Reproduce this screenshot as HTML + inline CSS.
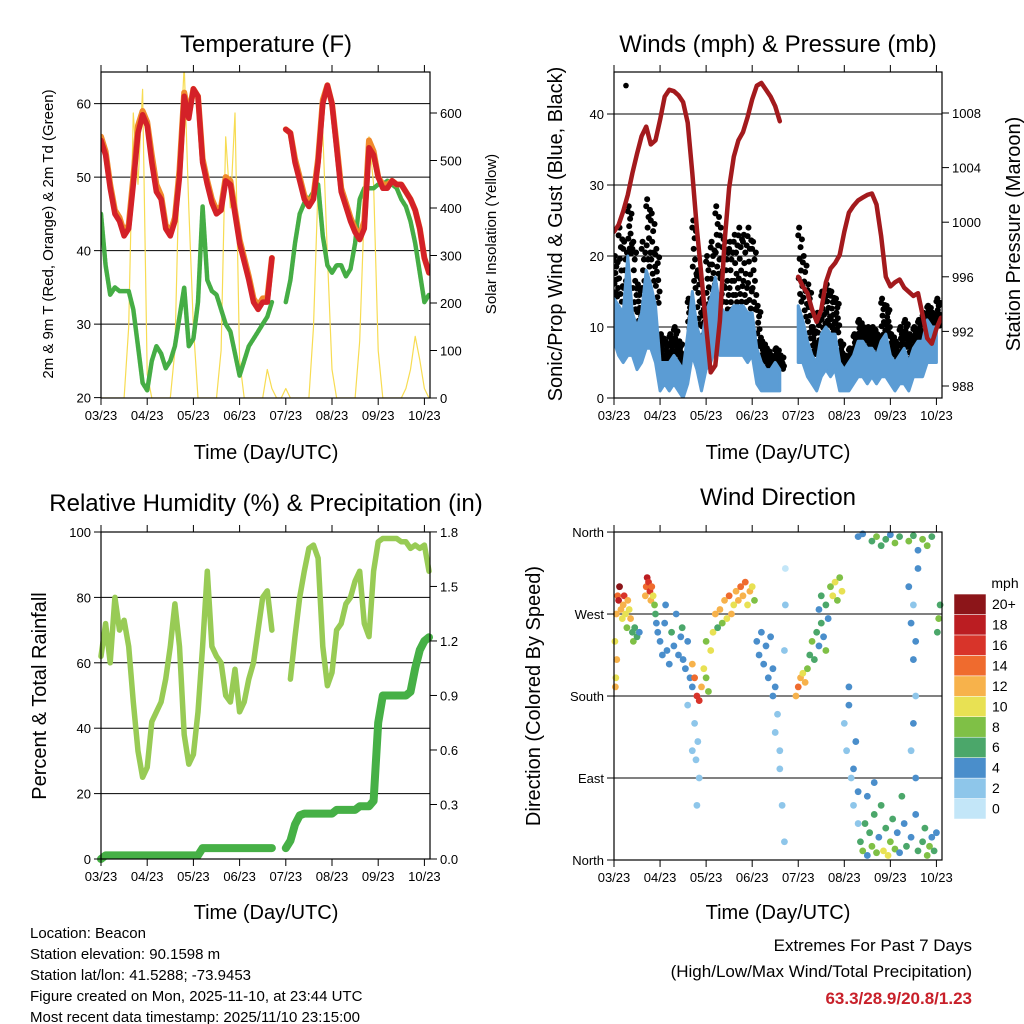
<!DOCTYPE html>
<html><head><meta charset="utf-8"><style>
html,body{margin:0;padding:0;background:#fff;}
svg{display:block;font-family:"Liberation Sans",sans-serif;}
</style></head><body>
<svg id="c" width="1024" height="1024" viewBox="0 0 1024 1024" xmlns="http://www.w3.org/2000/svg">
<g id="texts">
<text x="266" y="52" font-size="24" text-anchor="middle">Temperature (F)</text>
<text x="778" y="52" font-size="24" text-anchor="middle">Winds (mph) &amp; Pressure (mb)</text>
<text x="266" y="511" font-size="24" text-anchor="middle">Relative Humidity (%) &amp; Precipitation (in)</text>
<text x="778" y="505" font-size="24" text-anchor="middle">Wind Direction</text>
<text x="266" y="459" font-size="20" text-anchor="middle">Time (Day/UTC)</text>
<text x="778" y="459" font-size="20" text-anchor="middle">Time (Day/UTC)</text>
<text x="266" y="919" font-size="20" text-anchor="middle">Time (Day/UTC)</text>
<text x="778" y="919" font-size="20" text-anchor="middle">Time (Day/UTC)</text>
<text transform="translate(53,234) rotate(-90)" font-size="15" text-anchor="middle">2m &amp; 9m T (Red, Orange) &amp; 2m Td (Green)</text>
<text transform="translate(496,234) rotate(-90)" font-size="15" text-anchor="middle">Solar Insolation (Yellow)</text>
<text transform="translate(562,234) rotate(-90)" font-size="20" text-anchor="middle">Sonic/Prop Wind &amp; Gust (Blue, Black)</text>
<text transform="translate(1020,234) rotate(-90)" font-size="20" text-anchor="middle">Station Pressure (Maroon)</text>
<text transform="translate(46,696) rotate(-90)" font-size="20" text-anchor="middle">Percent &amp; Total Rainfall</text>
<text transform="translate(540,696) rotate(-90)" font-size="20" text-anchor="middle">Direction (Colored By Speed)</text>
<g font-size="15">
<text x="30" y="938">Location: Beacon</text>
<text x="30" y="959">Station elevation: 90.1598 m</text>
<text x="30" y="980">Station lat/lon: 41.5288; -73.9453</text>
<text x="30" y="1001">Figure created on Mon, 2025-11-10, at 23:44 UTC</text>
<text x="30" y="1022">Most recent data timestamp: 2025/11/10 23:15:00</text>
</g>
<text x="972" y="951" font-size="17" text-anchor="end">Extremes For Past 7 Days</text>
<text x="972" y="977" font-size="17" text-anchor="end">(High/Low/Max Wind/Total Precipitation)</text>
<text x="972" y="1004" font-size="17" font-weight="bold" fill="#c8202a" text-anchor="end">63.3/28.9/20.8/1.23</text>
<text x="1005" y="588" font-size="14" text-anchor="middle">mph</text>
</g>
</svg>
<script>
// ---- data (time index step = 0.1 day) ----
const dayTicks = ["03/23","04/23","05/23","06/23","07/23","08/23","09/23","10/23"];
const tempRed = [55,53,48.5,45,44,42,43,49,56,58.5,57,52,48,47,43,42,44,50,61,58,62,61,52,49,46.5,45,45.5,49.5,49,45,41,38.5,36,33,32,33,33,39,null,null,56.5,56,52,49.5,47,46,47,52,60,62.5,60,54,48,46,44,42.5,41.5,43,54,53,50,48.5,48.5,49.5,49,49,48,47,45.5,43,39,37];
const tempOrange = [55.5,53.5,49,45.5,44.5,42.5,43.5,50,57,59,57.5,53,49,47.5,43.5,42.5,44.5,51,61.5,58.5,62,61,52.5,49.5,47,45.5,46,50,49.5,45.5,41.5,39,36.5,33.5,32.5,33.5,33.5,39,null,null,56.5,56,52.5,50,47.5,46.5,47.5,52.5,60.5,62.5,60,54.5,48.5,46.5,44.5,43,42,44,55,53.5,50,49,49,49.5,49,49,48,47,45.5,43,39,37];
const dewGreen = [45,38,34,35,34.5,34.5,34.5,32,27,22,21,25,27,26,24,25,27,31,35,27,28,33,46,36,34.5,34,32,30,29,26,23,25,27,28,29,30,31,33,null,null,33,36,41,45,46.5,47,48,49,42,38,37,38,38,36.5,37.5,41,47,48.5,48.5,48.5,49,49,49.5,49,48.5,47,46,44,41,37,33,34];
const solar = [0,0,0,0,0,0,150,600,450,650,50,0,0,0,0,0,100,500,700,400,150,0,0,0,0,0,100,550,400,600,80,0,0,0,0,0,60,20,0,0,20,0,0,0,0,0,150,450,560,300,60,0,0,0,0,0,120,400,550,450,100,0,0,0,0,0,20,60,130,80,20,0];
const pressure = [999.3,999.8,1000.8,1002,1003.6,1005,1006.3,1007,1005.7,1006,1007.5,1009.2,1009.7,1009.6,1009.3,1008.8,1007.3,1003.6,999.5,996,992.4,989,989.5,992.8,998.5,1002.5,1004.8,1006,1006.6,1007.7,1009,1010,1010.2,1009.7,1009.2,1008.5,1007.4,null,null,null,996,995.3,994.8,993.6,992.7,993.6,995.6,996.6,997,997.6,999.3,1000.7,1001.2,1001.6,1001.8,1002,1002.1,1001.3,999,996,995.3,995.6,995.8,995.2,994.9,994.6,994.8,993.2,991.5,991.1,992.2,993];
const windLo = [8,6,5,6,6,4,5,7,7,5,1,2,1,2,1,0,2,6,4,1,4,5,7,6,6,6,6,6,6,5,6,2,1,1,1,1,1,null,null,null,5,5,3,2,1,3,4,3,4,1,1,1,2,3,3,2,3,2,3,3,2,1,2,2,1,3,3,3,5,5,5];
const windHi = [14,13,12,20,12,10,12,18,16,13,5,5,5,6,5,4,9,15,10,8,12,14,17,13,12,12,13,13,13,12,12,7,5,4,4,5,4,null,null,null,13,11,8,6,5,9,10,9,9,5,4,5,6,8,8,7,7,6,8,9,6,5,6,7,5,7,8,8,11,10,10];
const gust = [20,24,22,27,22,16,22,28,26,21,9,8,9,10,8,6,14,25,18,14,20,22,27,24,22,22,23,24,23,24,22,13,8,7,6,7,6,null,null,null,24,20,16,10,12,15,16,15,14,8,6,7,9,11,10,10,10,9,14,13,9,8,10,11,9,10,11,12,13,12,14];
const rh = [62,72,60,80,70,73,65,48,33,25,28,42,45,48,55,65,78,65,38,29,32,45,65,88,65,62,60,50,48,58,45,48,55,60,70,80,82,70,null,null,null,55,68,80,88,95,96,92,65,53,57,70,72,78,80,85,88,72,68,88,97,98,98,98,98,97,97,95,96,95,96,88];
const precip = [0,0.02,0.02,0.02,0.02,0.02,0.02,0.02,0.02,0.02,0.02,0.02,0.02,0.02,0.02,0.02,0.02,0.02,0.02,0.02,0.02,0.02,0.06,0.06,0.06,0.06,0.06,0.06,0.06,0.06,0.06,0.06,0.06,0.06,0.06,0.06,0.06,0.06,null,null,0.06,0.1,0.19,0.24,0.25,0.25,0.25,0.25,0.25,0.25,0.25,0.27,0.27,0.27,0.27,0.27,0.29,0.29,0.29,0.32,0.75,0.9,0.9,0.9,0.9,0.9,0.9,0.92,1.05,1.15,1.2,1.22];
const dirT = [0.02,0.05,0.08,0.1,0.12,0.15,0.18,0.2,0.22,0.25,0.28,0.3,0.33,0.36,0.4,0.42,0.45,0.5,0.55,0.06,0.04,0.03,
0.68,0.7,0.72,0.75,0.78,0.8,0.82,0.85,0.88,0.9,0.92,0.95,
1.0,1.05,1.1,1.15,1.2,1.25,1.3,1.35,1.4,1.45,1.5,1.55,1.6,1.65,1.7,1.75,1.78,1.8,1.82,1.85,1.6,1.7,1.48,1.12,
1.7,1.75,1.8,1.85,1.9,1.95,2.0,2.05,2.1,2.0,
2.15,2.2,2.3,2.4,2.45,2.5,2.55,2.6,2.65,2.7,2.75,2.8,2.85,2.9,2.95,3.0,3.05,2.35,2.25,
3.1,3.15,3.2,3.25,3.3,3.35,3.4,3.45,3.5,3.55,3.6,3.65,3.7,3.72,3.72,3.7,3.6,3.5,3.45,
3.95,4.0,4.05,4.1,4.15,4.2,
4.25,4.3,4.35,4.4,4.45,4.5,4.55,4.6,
4.45,4.5,4.6,4.7,4.75,4.8,4.85,4.9,4.95,4.65,
5.0,5.05,5.1,5.15,5.2,5.25,5.3,5.1,5.2,5.3,
5.35,5.4,5.45,5.5,5.55,5.6,5.65,5.7,5.75,5.8,5.85,5.9,5.95,6.0,6.05,6.1,6.15,6.2,6.3,6.35,6.45,6.55,6.6,6.7,6.75,6.8,6.85,6.9,6.95,7.0,5.5,5.65,6.25,
5.3,5.4,5.6,5.7,5.8,5.9,6.0,6.1,6.2,6.4,6.5,6.6,6.7,6.8,6.9,
6.4,6.45,6.5,6.55,6.5,6.45,6.55,6.6,6.5,6.55,
7.05,7.08,7.02];
const dirDeg = [240,270,290,285,300,275,265,280,290,270,255,285,275,265,250,240,255,245,250,220,200,190,
290,300,310,305,295,285,300,290,280,270,260,250,
240,225,260,230,215,250,235,270,225,245,220,210,240,200,190,150,110,60,130,90,170,120,255,280,
215,200,180,175,190,210,200,185,230,240,
250,270,275,285,265,290,270,280,295,285,300,290,305,280,295,300,285,260,255,
240,225,250,215,235,200,245,210,190,160,120,60,20,320,280,230,100,140,180,
180,190,200,205,195,210,
225,240,220,250,235,260,245,230,
275,290,280,300,290,305,285,310,295,265,
150,120,170,90,60,130,40,190,100,75,
20,10,40,5,30,15,50,8,25,60,10,35,5,20,45,12,30,8,40,15,25,50,10,20,35,5,15,25,10,30,70,85,70,
355,358,350,355,345,352,357,348,355,350,356,340,352,345,355,
300,260,220,180,150,120,90,320,280,240,
265,280,250];
const dirSpd = [10,12,14,18,20,12,10,12,16,10,8,12,10,11,6,8,5,6,4,12,10,11,
12,14,18,16,16,12,14,10,8,6,4,3,
4,4,3,4,3,5,4,3,4,4,3,4,3,4,3,2,2,1,2,1,2,2,5,4,
12,14,16,16,12,10,8,7,10,8,
10,12,12,12,10,14,12,10,12,12,14,12,14,10,12,10,8,8,6,
4,4,3,4,4,3,4,3,4,2,2,1,1,0,1,2,2,2,3,
12,14,12,10,12,8,
6,8,5,6,4,5,4,8,
4,5,6,8,10,9,7,8,10,4,
2,2,3,2,2,3,2,3,3,4,
6,8,6,4,5,8,6,7,4,5,9,6,10,8,5,7,4,3,4,5,3,4,5,6,5,8,7,4,5,4,4,3,5,
4,3,6,8,5,6,4,7,5,8,6,4,7,8,6,
3,4,3,2,3,2,4,4,2,3,
8,6,6];
const tempTicks = [20,30,40,50,60];
const solarTicks = [0,100,200,300,400,500,600];
const windTicks = [0,10,20,30,40];
const pressTicks = [988,992,996,1000,1004,1008];
const rhTicks = [0,20,40,60,80,100];
const precipTicks = ["0.0","0.3","0.6","0.9","1.2","1.5","1.8"];
const dirNames = ["North","East","South","West","North"];
const speedLabels = ["0","2","4","6","8","10","12","14","16","18","20+"];
const speedColors = ["#c3e6f8","#8ec6ea","#4a8ecb","#4ba76a","#7fc046","#e8e153","#f7b24b","#ef6b2e","#d8342a","#bb1d22","#8c1519"];

// ---- helpers ----
const svg = document.getElementById('c');
const NS = 'http://www.w3.org/2000/svg';
function mk(tag, attrs, parent){const e=document.createElementNS(NS,tag);for(const k in attrs)e.setAttribute(k,attrs[k]);(parent||svg).appendChild(e);return e;}
const DT = 0.1;
const P = {
 tl:{x0:101,x1:430,y0:72,y1:398},
 tr:{x0:614,x1:942,y0:72,y1:398},
 bl:{x0:101,x1:430,y0:532,y1:859},
 br:{x0:614,x1:942,y0:532,y1:860}
};
const DAYPX = 46.2;
function xs(p,t){return p.x0 + t*DAYPX*(p.x1-p.x0)/329;}
const yT = v => 398 - (v-19.95)*7.35;
const yS = v => 398 - v*0.475;
const yW = v => 398 - v*7.1;
const yP = v => 386 - (v-988)*13.65;
const yRH = v => 859 - v*3.27;
const yPr = v => 859 - v*181.7;
const yDir = v => 860 - v*0.911;

function line(p, arr, yf, attrs, name){
 let d='', pen=false;
 arr.forEach((v,i)=>{ if(v===null){pen=false;return;} const x=xs(p,i*DT), y=yf(v); d+=(pen?'L':'M')+x.toFixed(1)+' '+y.toFixed(1)+' '; pen=true;});
 const e=mk('path',Object.assign({d:d,fill:'none','stroke-linejoin':'round','stroke-linecap':'round'},attrs));
 
 
 return e;
}
function frame(p, name){
 const g=mk('g',{});
 
 
 mk('rect',{x:p.x0,y:p.y0,width:p.x1-p.x0,height:p.y1-p.y0,fill:'none',stroke:'#000','stroke-width':1.2},g);
 dayTicks.forEach((lab,i)=>{
  const x=xs(p,i);
  mk('line',{x1:x,x2:x,y1:p.y1,y2:p.y1+7,stroke:'#000'},g);
  mk('line',{x1:x,x2:x,y1:p.y0,y2:p.y0-7,stroke:'#000'},g);
  const t=mk('text',{x:x,y:p.y1+22,'font-size':13,'text-anchor':'middle'},g); t.textContent=lab;
  
  
 });
 return g;
}
function grid(p, ys){ ys.forEach(y=>{ const l=mk('line',{x1:p.x0,x2:p.x1,y1:y,y2:y,stroke:'#000','stroke-width':1});
 
  }); }
function yTicks(p, vals, yf, side, labels, name){
 vals.forEach((v,i)=>{
  const y=yf(v); const x = side==='l'?p.x0:p.x1;
  mk('line',{x1:x,x2:side==='l'?x-7:x+7,y1:y,y2:y,stroke:'#000'});
  const t=mk('text',{x:side==='l'?x-10:x+10,y:y+5,'font-size':13,'text-anchor':side==='l'?'end':'start'});
  t.textContent = labels?labels[i]:String(v);
  
  
 });
}

// ---- Panel 1: Temperature ----
const p1=P.tl;
grid(p1, tempTicks.slice(1).map(yT));
const clip1=mk('clipPath',{id:'c1'}); mk('rect',{x:p1.x0,y:p1.y0,width:p1.x1-p1.x0,height:p1.y1-p1.y0},clip1);
const g1=mk('g',{'clip-path':'url(#c1)'});


g1.appendChild(line(p1, solar, yS, {stroke:'#f7dc52','stroke-width':1.2}, 'solar-line'));
g1.appendChild(line(p1, dewGreen, yT, {stroke:'#45ad45','stroke-width':4.5,'stroke-dasharray':'3 1'}, 'dewpoint-line'));
g1.appendChild(line(p1, tempOrange, yT, {stroke:'#f08a2c','stroke-width':6}, 'temp-9m-line'));
g1.appendChild(line(p1, tempRed, yT, {stroke:'#d42128','stroke-width':5.5}, 'temp-2m-line'));
frame(p1,'temperature-frame');
yTicks(p1, tempTicks, yT, 'l', null, 'temp-tick-label');
yTicks(p1, solarTicks, yS, 'r', null, 'solar-tick-label');

// ---- Panel 2: Winds ----
const p2=P.tr;
grid(p2, windTicks.slice(1).map(yW));
const clip2=mk('clipPath',{id:'c2'}); mk('rect',{x:p2.x0,y:p2.y0,width:p2.x1-p2.x0,height:p2.y1-p2.y0},clip2);
const g2=mk('g',{'clip-path':'url(#c2)'});


const fr=[0.9,0.35,1,0.6,0.15,0.75,0.45,0.05,0.85,0.25];
gust.forEach((g,i)=>{
 if(g===null) return;
 fr.forEach((f,k)=>{
  const c=mk('circle',{cx:xs(p2,i*DT+k*0.01),cy:yW(windHi[i]+(g-windHi[i])*f),r:3,fill:'#000'},g2);
  
  
 });
});
let seg=[];
function flushBand(){ if(seg.length<1) return; let d='';
 seg.forEach((i,j)=>{d+=(j?'L':'M')+xs(p2,i*DT).toFixed(1)+' '+yW(windHi[i]).toFixed(1)+' ';});
 for(let j=seg.length-1;j>=0;j--){const i=seg[j]; d+='L'+xs(p2,i*DT).toFixed(1)+' '+yW(windLo[i]).toFixed(1)+' ';}
 const b=mk('path',{d:d+'Z',fill:'#5b9cd4',stroke:'#5b9cd4','stroke-width':3,'stroke-linejoin':'round'},g2);
 
 
 seg=[]; }
windLo.forEach((v,i)=>{ if(v===null){flushBand();} else seg.push(i); }); flushBand();
const outlier=mk('circle',{cx:xs(p2,0.26),cy:yW(44),r:2.8,fill:'#000'},g2);


g2.appendChild(line(p2, pressure, yP, {stroke:'#a31a1d','stroke-width':4.5}, 'pressure-line'));
frame(p2,'wind-frame');
yTicks(p2, windTicks, yW, 'l', null, 'wind-tick-label');
yTicks(p2, pressTicks, yP, 'r', null, 'pressure-tick-label');

// ---- Panel 3: RH & precip ----
const p3=P.bl;
grid(p3, rhTicks.slice(1,5).map(yRH));
const g3=mk('g',{});


g3.appendChild(line(p3, rh, yRH, {stroke:'#98cb55','stroke-width':5.5}, 'rh-line'));
g3.appendChild(line(p3, precip, yPr, {stroke:'#46b046','stroke-width':8}, 'precip-line'));
frame(p3,'humidity-frame');
yTicks(p3, rhTicks, yRH, 'l', null, 'rh-tick-label');
yTicks(p3, precipTicks.map(Number), yPr, 'r', precipTicks, 'precip-tick-label');

// ---- Panel 4: Wind direction ----
const p4=P.br;
grid(p4, [90,180,270].map(yDir));
const clip4=mk('clipPath',{id:'c4'}); mk('rect',{x:p4.x0-4,y:p4.y0-4,width:p4.x1-p4.x0+8,height:p4.y1-p4.y0+8},clip4);
const g4=mk('g',{'clip-path':'url(#c4)'});


dirT.forEach((t,i)=>{
 const bin=Math.min(10,Math.round(dirSpd[i]/2));
 const c=mk('circle',{cx:xs(p4,t),cy:yDir(dirDeg[i]),r:3.4,fill:speedColors[bin]},g4);
 
 
});
frame(p4,'direction-frame');
dirNames.forEach((n,i)=>{
 const y=yDir(i*90);
 mk('line',{x1:p4.x0,x2:p4.x0-7,y1:y,y2:y,stroke:'#000'});
 const t=mk('text',{x:p4.x0-10,y:y+5,'font-size':13,'text-anchor':'end'}); t.textContent=n;
 
 
});
speedLabels.forEach((lab,i)=>{
 const y=819-(i+1)*20.45;
 const r=mk('rect',{x:954,y:y,width:32,height:20.45,fill:speedColors[i],stroke:'#fff','stroke-width':0.5});
 
 
 const t=mk('text',{x:992,y:y+15,'font-size':14}); t.textContent=lab;
 
 
});
</script>
</body></html>
